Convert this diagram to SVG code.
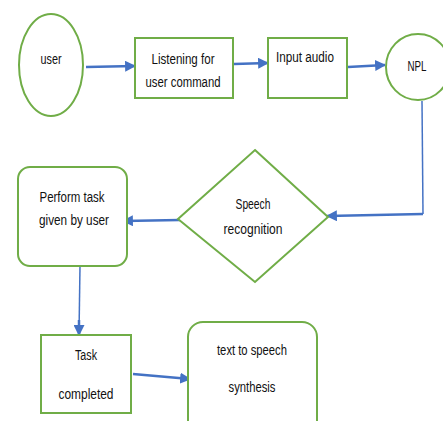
<svg xmlns="http://www.w3.org/2000/svg" width="443" height="421" viewBox="0 0 443 421">
<style>
.n{fill:#fff;stroke:#70AD47;stroke-width:2}
.t{font-family:"Liberation Sans",Arial,sans-serif;font-size:15.5px;fill:#111;text-anchor:middle}
.c{fill:none;stroke:#4472C4;stroke-width:2.5}
.thin{fill:none;stroke:#4472C4;stroke-width:1.5}
</style>
<defs>
<marker id="a" viewBox="0 0 10 10" refX="9" refY="5" markerWidth="4.4" markerHeight="4.4" orient="auto" markerUnits="strokeWidth">
<path d="M0,0 L10,5 L0,10 z" fill="#4472C4"/>
</marker>
</defs>
<rect width="443" height="421" fill="#fff"/>
<g id="connectors">
<path class="c" d="M86,67 L135,66" marker-end="url(#a)"/>
<path class="c" d="M234,64 L268,63" marker-end="url(#a)"/>
<path class="c" d="M348,67 L385,65" marker-end="url(#a)"/>
<path class="thin" d="M422,101 L423,214"/>
<path class="c" d="M423,214 L375,215 L327,216" marker-end="url(#a)"/>
<path class="c" d="M180,220 L123,221" marker-end="url(#a)"/>
<path class="thin" d="M80,266 L79,334"/>
<path class="c" d="M79,320 L79,335" marker-end="url(#a)" stroke-width="2"/>
<path class="c" d="M133,374 L190,379" marker-end="url(#a)"/>
</g>
<g id="user">
<ellipse class="n" cx="51" cy="65" rx="32" ry="51"/>
<text class="t" x="51" y="64" textLength="21" lengthAdjust="spacingAndGlyphs">user</text>
</g>
<g id="listening">
<rect class="n" x="135" y="38" width="98" height="60"/>
<text class="t" x="183" y="64" textLength="63" lengthAdjust="spacingAndGlyphs">Listening for</text>
<text class="t" x="183" y="87" textLength="75" lengthAdjust="spacingAndGlyphs">user command</text>
</g>
<g id="input">
<rect class="n" x="268" y="38" width="79" height="60"/>
<text class="t" x="305" y="62" textLength="58" lengthAdjust="spacingAndGlyphs">Input audio</text>
</g>
<g id="npl">
<ellipse class="n" cx="418" cy="67" rx="32" ry="33"/>
<text class="t" x="417" y="71" textLength="19" lengthAdjust="spacingAndGlyphs">NPL</text>
</g>
<g id="speech">
<polygon class="n" points="255,150 328,217 255,282 178,219"/>
<text class="t" x="253" y="209" textLength="35" lengthAdjust="spacingAndGlyphs">Speech</text>
<text class="t" x="253" y="234" textLength="59" lengthAdjust="spacingAndGlyphs">recognition</text>
</g>
<g id="perform">
<rect class="n" x="18" y="167" width="109" height="99" rx="12"/>
<text class="t" x="72" y="202" textLength="65" lengthAdjust="spacingAndGlyphs">Perform task</text>
<text class="t" x="74" y="225" textLength="70" lengthAdjust="spacingAndGlyphs">given by user</text>
</g>
<g id="task">
<rect class="n" x="41" y="335" width="90" height="78"/>
<text class="t" x="86" y="360" textLength="22" lengthAdjust="spacingAndGlyphs">Task</text>
<text class="t" x="86" y="399" textLength="55" lengthAdjust="spacingAndGlyphs">completed</text>
</g>
<g id="tts">
<rect class="n" x="188" y="322" width="129" height="115" rx="15"/>
<text class="t" x="252" y="355" textLength="70" lengthAdjust="spacingAndGlyphs">text to speech</text>
<text class="t" x="252" y="392" textLength="47" lengthAdjust="spacingAndGlyphs">synthesis</text>
</g>
</svg>
